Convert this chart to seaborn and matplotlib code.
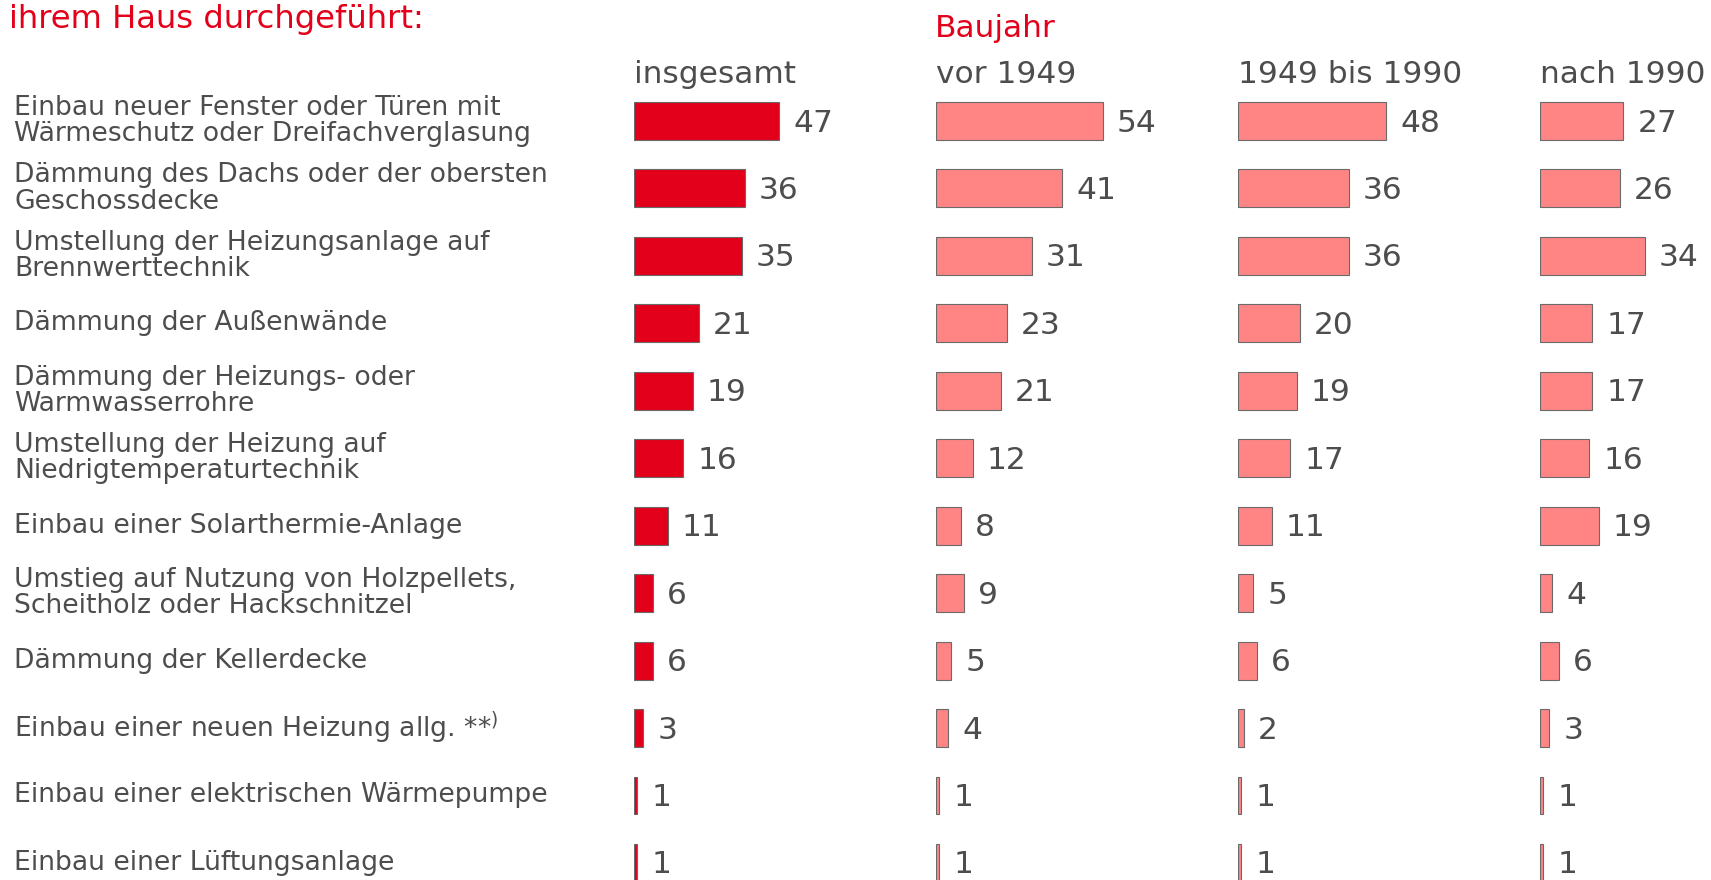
import pandas as pd
import matplotlib.pyplot as plt
import matplotlib.transforms as mtransforms
import seaborn as sns

# data (percent of households)
measures = [
    "Einbau neuer Fenster oder Türen mit\nWärmeschutz oder Dreifachverglasung",
    "Dämmung des Dachs oder der obersten\nGeschossdecke",
    "Umstellung der Heizungsanlage auf\nBrennwerttechnik",
    "Dämmung der Außenwände",
    "Dämmung der Heizungs- oder\nWarmwasserrohre",
    "Umstellung der Heizung auf\nNiedrigtemperaturtechnik",
    "Einbau einer Solarthermie-Anlage",
    "Umstieg auf Nutzung von Holzpellets,\nScheitholz oder Hackschnitzel",
    "Dämmung der Kellerdecke",
    "Einbau einer neuen Heizung allg. **$^{)}$",
    "Einbau einer elektrischen Wärmepumpe",
    "Einbau einer Lüftungsanlage",
]
insgesamt = [47, 36, 35, 21, 19, 16, 11, 6, 6, 3, 1, 1]
vor_1949 = [54, 41, 31, 23, 21, 12, 8, 9, 5, 4, 1, 1]
bis_1990 = [48, 36, 36, 20, 19, 17, 11, 5, 6, 2, 1, 1]
nach_1990 = [27, 26, 34, 17, 17, 16, 19, 4, 6, 3, 1, 1]
columns = ["insgesamt", "vor 1949", "1949 bis 1990", "nach 1990"]

df = pd.DataFrame({
    "Maßnahme": measures,
    "insgesamt": insgesamt,
    "vor 1949": vor_1949,
    "1949 bis 1990": bis_1990,
    "nach 1990": nach_1990,
})

sns.set_style("white")
plt.rcParams["font.family"] = ["DejaVu Sans"]

RED = "#E2001A"
PINK = "#FF8585"
EDGE = "#6a6a6a"
TEXT = "#4d4d4d"

W, H = 1711, 880
fig = plt.figure(figsize=(W / 100, H / 100), dpi=100)

col_x = [634, 936, 1238, 1540]
px_per_unit = 3.085
ax_w = 170
ylim = (11.253, -1.794)

for k, col in enumerate(columns):
    ax = fig.add_axes([col_x[k] / W, 0, ax_w / W, 1])
    sns.barplot(data=df, x=col, y="Maßnahme", orient="h", ax=ax,
                color=RED if k == 0 else PINK, saturation=1,
                edgecolor=EDGE, linewidth=0.8, width=0.563)
    ax.set_xlim(0, ax_w / px_per_unit)
    ax.set_ylim(*ylim)
    ax.axis("off")
    for i, v in enumerate(df[col]):
        ax.annotate(str(v), xy=(v, i), xytext=(14, -2), textcoords="offset pixels",
                    va="center", ha="left", fontsize=22.5, color=TEXT,
                    annotation_clip=False)
    ax.text(0, 1 - 83 / H, col, transform=ax.transAxes, ha="left", va="baseline",
            fontsize=22.5, color=TEXT)
    if k == 0:
        trans = mtransforms.blended_transform_factory(fig.transFigure, ax.transData)
        for i, m in enumerate(measures):
            ax.text(14 / W, i, m, transform=trans, ha="left", va="center",
                    fontsize=19.2, color=TEXT, linespacing=1.02)

fig.text(9 / W, 1 - 28 / H, "ihrem Haus durchgeführt:", ha="left", va="baseline",
         fontsize=23.2, color=RED)
fig.text(935 / W, 1 - 37 / H, "Baujahr", ha="left", va="baseline",
         fontsize=22.5, color=RED)

fig.savefig("out.png", dpi=100, facecolor="white")
